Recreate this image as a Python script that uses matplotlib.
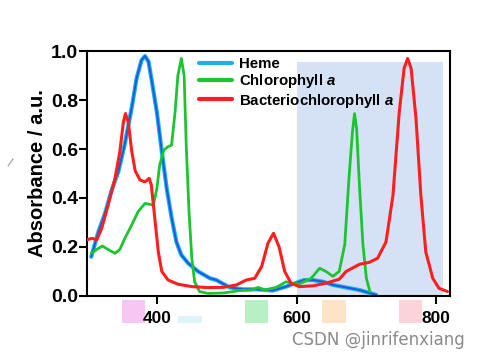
import matplotlib
matplotlib.use('Agg')
from matplotlib import pyplot as plt
from matplotlib import transforms
from matplotlib.patches import Rectangle

# Absorption spectra (wavelength nm, absorbance a.u.)
heme_wl = [306, 316, 326, 335, 345, 354, 364, 371, 378, 383, 388, 392, 400, 407,
           414, 421, 428, 435, 445, 459, 476, 485, 504, 523, 542, 566, 585, 600,
           611, 623, 638, 652, 661, 690, 714]
heme_abs = [0.16, 0.26, 0.34, 0.43, 0.51, 0.62, 0.77, 0.89, 0.963, 0.98, 0.957, 0.89, 0.75, 0.59,
            0.44, 0.32, 0.22, 0.167, 0.133, 0.10, 0.072, 0.065, 0.035, 0.027, 0.027, 0.022, 0.038, 0.054,
            0.065, 0.065, 0.058, 0.045, 0.04, 0.024, 0.004]

chl_wl = [306, 314, 322, 330, 340, 347, 354, 364, 373, 383, 390, 395, 400, 404,
          410, 416, 421, 426, 430, 435, 439, 442, 446, 450, 454, 461, 473, 495,
          519, 535, 545, 554, 571, 585, 592, 604, 621, 633, 642, 652, 661, 669,
          675, 680, 683, 686, 690, 695, 700, 705]
chl_abs = [0.174, 0.19, 0.204, 0.19, 0.174, 0.19, 0.235, 0.29, 0.344, 0.378, 0.374, 0.371, 0.44, 0.535,
           0.596, 0.61, 0.616, 0.75, 0.90, 0.97, 0.90, 0.616, 0.344, 0.154, 0.058, 0.018, 0.01, 0.012,
           0.022, 0.024, 0.035, 0.024, 0.035, 0.058, 0.052, 0.049, 0.072, 0.113, 0.10, 0.08, 0.10, 0.21,
           0.48, 0.67, 0.745, 0.684, 0.453, 0.21, 0.072, 0.018]

bchl_wl = [300, 307, 314, 321, 330, 340, 347, 352, 355, 359, 364, 369, 376, 383,
           389, 392, 397, 402, 407, 416, 430, 450, 473, 495, 514, 528, 540, 550,
           559, 567, 575, 583, 592, 604, 623, 642, 661, 671, 690, 704, 716, 728,
           738, 747, 754, 759, 764, 771, 778, 785, 795, 804, 816]
bchl_abs = [0.23, 0.235, 0.23, 0.276, 0.37, 0.48, 0.59, 0.71, 0.745, 0.71, 0.59, 0.51, 0.473, 0.466,
            0.48, 0.453, 0.317, 0.18, 0.10, 0.065, 0.048, 0.038, 0.034, 0.035, 0.045, 0.065, 0.072, 0.12,
            0.215, 0.256, 0.20, 0.10, 0.052, 0.038, 0.041, 0.052, 0.068, 0.10, 0.129, 0.137, 0.154, 0.22,
            0.41, 0.75, 0.93, 0.97, 0.93, 0.725, 0.41, 0.18, 0.072, 0.031, 0.018]

labels = ['Heme', 'Chlorophyll $\\mathbfit{a}$', 'Bacteriochlorophyll $\\mathbfit{a}$']

# colour swatches under the axis (start nm, end nm)
swatch_lo = [350, 430, 526, 637, 747]
swatch_hi = [383, 464, 559, 671, 780]
swatch_col = ['#f7c6f3', '#dff3fb', '#b7f0c4', '#fde3c8', '#fcd3d8']

plt.rcParams['font.family'] = ['Liberation Sans', 'DejaVu Sans']
plt.rcParams['mathtext.fontset'] = 'custom'
plt.rcParams['mathtext.bfit'] = 'Liberation Sans:bold:italic'

fig = plt.figure(figsize=(4.81, 3.6), dpi=100)
ax = fig.add_axes([0.181, 0.178, 0.755, 0.680])

ax.axvspan(600, 810, ymin=0, ymax=0.955, color='#d5e2f5', lw=0, zorder=0)

kw = dict(solid_joinstyle='round', solid_capstyle='round')
ax.plot(heme_wl, heme_abs, color='#19b3f2', lw=3.0, label=labels[0], zorder=2, **kw)
ax.plot(heme_wl, heme_abs, color='#2258d8', lw=1.4, zorder=2, **kw)
ax.plot(chl_wl, chl_abs, color='#1ec430', lw=2.0, label=labels[1], zorder=3, **kw)
ax.plot(bchl_wl, bchl_abs, color='#ff1e1e', lw=2.2, label=labels[2], zorder=4, **kw)

ax.set_xlim(300, 820)
ax.set_ylim(0, 1.0)
ax.set_xticks([400, 600, 800])
ax.set_yticks([0.0, 0.2, 0.4, 0.6, 0.8, 1.0])
ax.set_yticklabels(['0.0', '0.2', '0.4', '0.6', '0.8', '1.0'])
ax.tick_params(direction='out', length=6, width=1.5)
ax.tick_params(axis='x', labelsize=12.5, pad=5)
ax.tick_params(axis='y', labelsize=14, pad=0.5)
for t in ax.get_xticklabels() + ax.get_yticklabels():
    t.set_fontweight('bold')
for s in ax.spines.values():
    s.set_linewidth(1.5)
ax.set_ylabel('Absorbance / a.u.', fontsize=14.5, fontweight='bold', labelpad=3)

leg = ax.legend(loc='upper left', bbox_to_anchor=(0.27, 1.03), frameon=False,
                prop={'weight': 'bold', 'size': 10.8}, handlelength=2.2,
                handletextpad=0.5, labelspacing=0.08)
for h in leg.get_lines():
    h.set_linewidth(3)

trans = transforms.blended_transform_factory(ax.transData, ax.transAxes)
for lo, hi, c in zip(swatch_lo, swatch_hi, swatch_col):
    y0 = -0.11
    h = 0.095 if c != '#dff3fb' else 0.03
    ax.add_patch(Rectangle((lo, y0), hi - lo, h, transform=trans, color=c,
                           lw=0, clip_on=False, zorder=-1))

fig.text(0.012, 0.535, '/', color='#888888', fontsize=9, rotation=-20)
fig.text(0.967, 0.055, 'CSDN @jinrifenxiang', color='#8a8a8a', fontsize=12,
         ha='right', va='center', family='DejaVu Sans')

fig.savefig('out.png', dpi=100)
